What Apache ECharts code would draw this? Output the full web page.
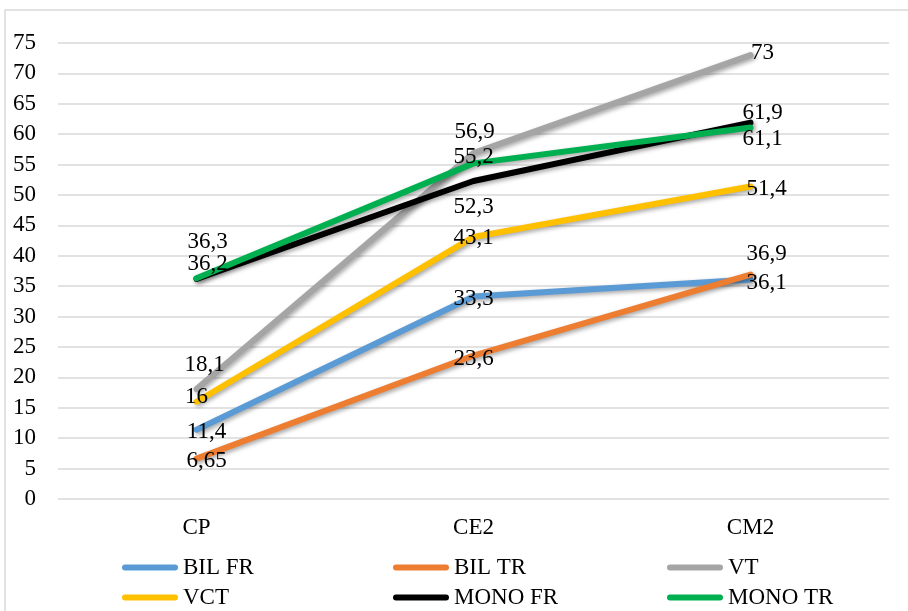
<!DOCTYPE html>
<html>
<head>
<meta charset="utf-8">
<script src="https://cdn.jsdelivr.net/npm/echarts@6/dist/echarts.min.js"></script>
<style>
  html, body { margin: 0; padding: 0; background: #fff; }
  #chart { width: 908px; height: 611px; }
</style>
</head>
<body>
<div id="chart"></div>
<script>
// School levels on the x axis
const categories = ['CP', 'CE2', 'CM2'];

// Scores per group
const bilFr  = [11.4, 33.3, 36.1];
const bilTr  = [6.65, 23.6, 36.9];
const vt     = [18.1, 56.9, 73];
const vct    = [16, 43.1, 51.4];
const monoFr = [36.2, 52.3, 61.9];
const monoTr = [36.3, 55.2, 61.1];

// Value axis ticks
const yTicks = [0, 5, 10, 15, 20, 25, 30, 35, 40, 45, 50, 55, 60, 65, 70, 75];

const seriesNames = ['BIL FR', 'BIL TR', 'VT', 'VCT', 'MONO FR', 'MONO TR'];
const seriesValues = [bilFr, bilTr, vt, vct, monoFr, monoTr];
const seriesColors = ['#5B9BD5', '#ED7D31', '#A5A5A5', '#FFC000', '#000000', '#00B050'];

// Per-point label nudges [dx, dy] in pixels so the value labels do not collide
const labelNudge = [
  [[10, 2],  [0, 2],   [16, 3]],
  [[10, 2],  [0, 3],   [16, -21]],
  [[8, -24], [1, -21], [12, -2]],
  [[0, -5],  [0, 1],   [16, 2]],
  [[11, -15],[0, 26],  [12, -10]],
  [[11, -36],[0, -6],  [12, 11]]
];

const FONT = '"Liberation Serif", "Times New Roman", serif';
const FONT_SIZE = 23;

const series = seriesNames.map((name, i) => ({
  name: name,
  type: 'line',
  data: seriesValues[i].map((v, j) => ({
    value: v,
    label: { offset: labelNudge[i][j] }
  })),
  symbol: 'circle',
  symbolSize: 0.1,
  showSymbol: true,
  itemStyle: { color: seriesColors[i] },
  lineStyle: {
    color: seriesColors[i],
    width: 6,
    cap: 'round',
    join: 'round',
    shadowColor: 'rgba(0,0,0,0.35)',
    shadowBlur: 4,
    shadowOffsetX: 2,
    shadowOffsetY: 2
  },
  label: {
    show: true,
    position: 'inside',
    color: '#000',
    fontFamily: FONT,
    fontSize: FONT_SIZE,
    formatter: p => String(p.value).replace('.', ',')
  },
  emphasis: { disabled: true },
  animation: false
}));

// Legend laid out in three columns of two rows
const legendIcon = 'path://M3,0 L53,0 A3,3 0 0 1 53,6 L3,6 A3,3 0 0 1 3,0 Z';
const legendColumns = [
  { left: 122, data: ['BIL FR', 'VCT'] },
  { left: 393, data: ['BIL TR', 'MONO FR'] },
  { left: 667, data: ['VT', 'MONO TR'] }
];
const legends = legendColumns.map(col => ({
  orient: 'vertical',
  left: col.left,
  top: 556,
  data: col.data,
  icon: legendIcon,
  itemWidth: 56,
  itemHeight: 6,
  itemGap: 7,
  padding: 0,
  selectedMode: false,
  textStyle: {
    fontFamily: FONT,
    fontSize: FONT_SIZE,
    lineHeight: 23,
    color: '#000'
  }
}));

const chart = echarts.init(document.getElementById('chart'), null, { renderer: 'canvas' });
chart.setOption({
  animation: false,
  backgroundColor: '#fff',
  graphic: [{
    type: 'rect',
    shape: { x: 5, y: 10, width: 910, height: 610 },
    style: { fill: 'none', stroke: '#d9d9d9', lineWidth: 1.5 },
    silent: true,
    z: -10
  }],
  legend: legends,
  grid: { left: 58, right: 19, top: 43, bottom: 112, containLabel: false },
  xAxis: {
    type: 'category',
    data: categories,
    boundaryGap: true,
    axisLine: { show: false },
    axisTick: { show: false },
    axisLabel: {
      margin: 17,
      color: '#000',
      fontFamily: FONT,
      fontSize: FONT_SIZE
    }
  },
  yAxis: {
    type: 'value',
    min: yTicks[0],
    max: yTicks[yTicks.length - 1],
    interval: yTicks[1] - yTicks[0],
    axisLine: { show: false },
    axisTick: { show: false },
    splitLine: { lineStyle: { color: '#d9d9d9', width: 1.5 } },
    axisLabel: {
      margin: 22,
      color: '#000',
      fontFamily: FONT,
      fontSize: FONT_SIZE
    }
  },
  series: series
});
</script>
</body>
</html>
